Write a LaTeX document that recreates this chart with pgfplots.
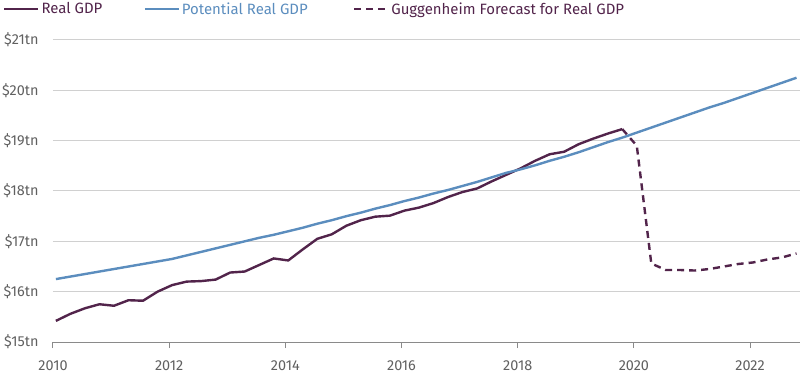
\documentclass[border=0pt]{standalone}
\usepackage{pgfplots}
\pgfplotsset{compat=1.18}
\usepackage{fontspec}
\setmainfont{Fira Sans}
\definecolor{gdp}{HTML}{52244B}
\definecolor{pot}{HTML}{5B8DBE}
\definecolor{lbl}{HTML}{606060}
\definecolor{grd}{HTML}{D0D0D0}
\definecolor{axl}{HTML}{8A8A8A}
\begin{document}
\begin{tikzpicture}
\begin{axis}[
  name=ax,
  scale only axis,
  width=747bp, height=302bp,
  xmin=2010, xmax=2022.86,
  ymin=15, ymax=21,
  axis x line*=bottom,
  axis y line*=left,
  y axis line style={draw=none},
  x axis line style={axl, line width=1bp, -},
  xtick={2010,2012,2014,2016,2018,2020,2022},
  xticklabels={2010,2012,2014,2016,2018,2020,2022},
  xtick align=outside,
  major tick length=6bp,
  x tick style={axl, line width=1bp},
  y tick style={draw=none},
  ytick={15,16,17,18,19,20,21},
  yticklabels={\$15tn,\$16tn,\$17tn,\$18tn,\$19tn,\$20tn,\$21tn},
  ymajorgrids,
  y grid style={grd, line width=1bp},
  tick label style={font=\fontsize{14.5}{17}\selectfont, text=lbl},
  yticklabel style={anchor=east, xshift=-11bp},
  xticklabel style={yshift=-9bp},
  clip=false,
  legend columns=3,
  legend style={draw=none, fill=none, at={(rel axis cs:0,1)}, anchor=west,
    xshift=-53bp, yshift=31bp, font=\fontsize{15}{18}\selectfont,
    /tikz/every even column/.append style={column sep=0bp}},
  legend cell align=left,
  legend image code/.code={\draw[#1] (0bp,0bp) -- (34bp,0bp);},
]
\addplot[gdp, line width=2.4bp] coordinates {
(2010.05,15.42)(2010.30,15.56)(2010.55,15.67)(2010.80,15.75)
(2011.05,15.72)(2011.30,15.83)(2011.55,15.82)(2011.80,16.00)
(2012.05,16.13)(2012.30,16.20)(2012.55,16.21)(2012.80,16.24)
(2013.05,16.38)(2013.30,16.40)(2013.55,16.53)(2013.80,16.66)
(2014.05,16.62)(2014.30,16.84)(2014.55,17.05)(2014.80,17.14)
(2015.05,17.31)(2015.30,17.42)(2015.55,17.49)(2015.80,17.51)
(2016.05,17.61)(2016.30,17.67)(2016.55,17.76)(2016.80,17.88)
(2017.05,17.98)(2017.30,18.05)(2017.55,18.19)(2017.80,18.32)
(2018.05,18.45)(2018.30,18.60)(2018.55,18.73)(2018.80,18.78)
(2019.05,18.93)(2019.30,19.04)(2019.55,19.14)(2019.80,19.23)
};
\addlegendentry{\makebox[100bp][l]{\textcolor{gdp}{Real GDP}}}
\addplot[pot, line width=2.4bp] coordinates {
(2010.05,16.25)(2010.30,16.30)(2010.55,16.35)(2010.80,16.40)
(2011.05,16.45)(2011.30,16.50)(2011.55,16.55)(2011.80,16.60)
(2012.05,16.65)(2012.30,16.72)(2012.55,16.79)(2012.80,16.86)
(2013.05,16.93)(2013.30,17.00)(2013.55,17.07)(2013.80,17.13)
(2014.05,17.20)(2014.30,17.27)(2014.55,17.35)(2014.80,17.42)
(2015.05,17.50)(2015.30,17.57)(2015.55,17.65)(2015.80,17.72)
(2016.05,17.80)(2016.30,17.87)(2016.55,17.95)(2016.80,18.02)
(2017.05,18.10)(2017.30,18.18)(2017.55,18.27)(2017.80,18.36)
(2018.05,18.43)(2018.30,18.51)(2018.55,18.60)(2018.80,18.68)
(2019.05,18.77)(2019.30,18.87)(2019.55,18.97)(2019.80,19.06)
(2020.05,19.16)(2020.30,19.26)(2020.55,19.36)(2020.80,19.46)
(2021.05,19.56)(2021.30,19.66)(2021.55,19.75)(2021.80,19.85)
(2022.05,19.95)(2022.30,20.05)(2022.55,20.15)(2022.80,20.25)
};
\addlegendentry{\makebox[169bp][l]{\textcolor{pot}{Potential Real GDP}}}
\addplot[gdp, line width=2.4bp, dash pattern=on 7bp off 5bp] coordinates {
(2019.80,19.23)(2020.05,18.90)(2020.30,16.56)(2020.55,16.43)
(2020.80,16.43)(2021.05,16.42)(2021.30,16.45)(2021.55,16.50)
(2021.80,16.55)(2022.05,16.58)(2022.30,16.64)(2022.55,16.68)
(2022.80,16.76)
};
\addlegendentry{\textcolor{gdp}{Guggenheim Forecast for Real GDP}}
\end{axis}
\pgfresetboundingbox
\path[use as bounding box] ([shift={(-53bp,-33bp)}]ax.south west) rectangle ([shift={(0bp,40bp)}]ax.north east);
\end{tikzpicture}
\end{document}
